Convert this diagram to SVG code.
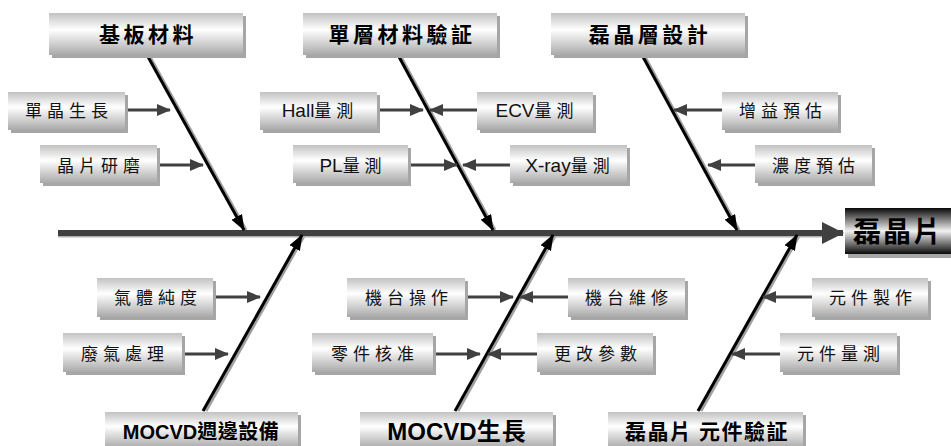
<svg xmlns="http://www.w3.org/2000/svg" width="951" height="446" viewBox="0 0 951 446">
<defs>
<linearGradient id="gBox" x1="0" y1="0" x2="0" y2="1">
<stop offset="0" stop-color="#c2c2c2"/>
<stop offset="0.4" stop-color="#ffffff"/>
<stop offset="1" stop-color="#a9a9a9"/>
</linearGradient>
<linearGradient id="gDark" x1="0" y1="0" x2="0" y2="1">
<stop offset="0" stop-color="#0a0a0a"/>
<stop offset="0.5" stop-color="#f2f2f2"/>
<stop offset="1" stop-color="#0a0a0a"/>
</linearGradient>
<marker id="aSmall" markerUnits="userSpaceOnUse" markerWidth="14" markerHeight="12" refX="13" refY="6" orient="auto">
<path d="M0,0 L14,6 L0,12 Z" fill="#404040"/>
</marker>
<marker id="aDiag" markerUnits="userSpaceOnUse" markerWidth="16" markerHeight="12" refX="15" refY="6" orient="auto">
<path d="M0,0 L16,6 L0,12 Z" fill="#000"/>
</marker>
<marker id="aSpine" markerUnits="userSpaceOnUse" markerWidth="22" markerHeight="22" refX="21" refY="11" orient="auto">
<path d="M0,0 L22,11 L0,22 Z" fill="#404040"/>
</marker>
<style>
.sh{fill:#a6a6a6}
.box{fill:url(#gBox)}
.dark{fill:url(#gDark)}
.t{font-family:"Noto Sans CJK TC","Noto Sans CJK SC",sans-serif;font-size:17px;fill:#111;text-anchor:middle;letter-spacing:5px}
.lat{font-family:"Liberation Sans",Arial,sans-serif;font-size:19px;letter-spacing:0}
.cat{font-family:"Noto Sans CJK TC","Noto Sans CJK SC",sans-serif;font-size:21px;font-weight:700;fill:#000;text-anchor:middle;letter-spacing:3.5px}
.latb{font-family:"Liberation Sans",Arial,sans-serif;font-weight:700;letter-spacing:0}
.small{stroke:#404040;stroke-width:3;fill:none;marker-end:url(#aSmall)}
.diag{stroke:#000;stroke-width:3;fill:none;marker-end:url(#aDiag)}
.dsh{stroke:#a0a0a0;stroke-width:3;fill:none}
</style>
</defs>

<g id="connectors">
<line class="dsh" x1="150" y1="57" x2="246" y2="230"/>
<line class="dsh" x1="401" y1="57" x2="495" y2="230"/>
<line class="dsh" x1="645" y1="57" x2="739" y2="230"/>
<line class="dsh" x1="206" y1="411" x2="304" y2="236"/>
<line class="dsh" x1="458" y1="411" x2="555" y2="236"/>
<line class="dsh" x1="701" y1="411" x2="799" y2="236"/>
<line x1="58" y1="236" x2="830" y2="236" stroke="#b0b0b0" stroke-width="3"/>
<line x1="58" y1="233" x2="843" y2="233" stroke="#404040" stroke-width="6" marker-end="url(#aSpine)"/>
<line class="diag" x1="147" y1="55" x2="244" y2="230"/>
<line class="diag" x1="398" y1="55" x2="493" y2="230"/>
<line class="diag" x1="642" y1="55" x2="737" y2="230"/>
<line class="diag" x1="203" y1="411" x2="302" y2="235"/>
<line class="diag" x1="455" y1="411" x2="553" y2="235"/>
<line class="diag" x1="698" y1="411" x2="797" y2="235"/>
<line class="small" x1="125" y1="110" x2="170" y2="110"/>
<line class="small" x1="157" y1="165" x2="203" y2="165"/>
<line class="small" x1="377" y1="110" x2="423" y2="110"/>
<line class="small" x1="408" y1="165" x2="457" y2="165"/>
<line class="small" x1="477" y1="110" x2="430" y2="110"/>
<line class="small" x1="510" y1="165" x2="463" y2="165"/>
<line class="small" x1="722" y1="110" x2="674" y2="110"/>
<line class="small" x1="755" y1="165" x2="708" y2="165"/>
<line class="small" x1="213" y1="297" x2="260" y2="297"/>
<line class="small" x1="182" y1="354" x2="228" y2="354"/>
<line class="small" x1="465" y1="297" x2="513" y2="297"/>
<line class="small" x1="568" y1="297" x2="520" y2="297"/>
<line class="small" x1="433" y1="354" x2="480" y2="354"/>
<line class="small" x1="537" y1="354" x2="488" y2="354"/>
<line class="small" x1="812" y1="297" x2="763" y2="297"/>
<line class="small" x1="780" y1="354" x2="732" y2="354"/>
</g>

<g id="cat-substrate">
<rect class="sh" x="52" y="16" width="194" height="42"/>
<rect class="box" x="49" y="13" width="194" height="42"/>
<text class="cat" x="148" y="42">基板材料</text>
</g>
<g id="cat-single-layer">
<rect class="sh" x="306" y="16" width="194" height="42"/>
<rect class="box" x="303" y="13" width="194" height="42"/>
<text class="cat" x="402" y="42">單層材料驗証</text>
</g>
<g id="cat-epi-design">
<rect class="sh" x="554" y="16" width="194" height="42"/>
<rect class="box" x="551" y="13" width="194" height="42"/>
<text class="cat" x="650" y="42">磊晶層設計</text>
</g>

<g id="n-single-crystal">
<rect class="sh" x="11" y="95" width="117" height="38"/>
<rect class="box" x="8" y="92" width="117" height="38"/>
<text class="t" x="69" y="117">單晶生長</text>
</g>
<g id="n-wafer-polish">
<rect class="sh" x="43" y="148" width="117" height="38"/>
<rect class="box" x="40" y="145" width="117" height="38"/>
<text class="t" x="101" y="172">晶片研磨</text>
</g>
<g id="n-hall">
<rect class="sh" x="263" y="95" width="117" height="38"/>
<rect class="box" x="260" y="92" width="117" height="38"/>
<text class="t" x="320" y="117"><tspan class="lat">Hall</tspan>量測</text>
</g>
<g id="n-pl">
<rect class="sh" x="296" y="148" width="115" height="38"/>
<rect class="box" x="293" y="145" width="115" height="38"/>
<text class="t" x="353" y="172"><tspan class="lat">PL</tspan>量測</text>
</g>
<g id="n-ecv">
<rect class="sh" x="480" y="95" width="116" height="38"/>
<rect class="box" x="477" y="92" width="116" height="38"/>
<text class="t" x="537" y="117"><tspan class="lat">ECV</tspan>量測</text>
</g>
<g id="n-xray">
<rect class="sh" x="513" y="148" width="117" height="38"/>
<rect class="box" x="510" y="145" width="117" height="38"/>
<text class="t" x="570" y="172"><tspan class="lat">X-ray</tspan>量測</text>
</g>
<g id="n-gain">
<rect class="sh" x="725" y="95" width="116" height="38"/>
<rect class="box" x="722" y="92" width="116" height="38"/>
<text class="t" x="783" y="117">增益預估</text>
</g>
<g id="n-conc">
<rect class="sh" x="758" y="148" width="117" height="38"/>
<rect class="box" x="755" y="145" width="117" height="38"/>
<text class="t" x="816" y="172">濃度預估</text>
</g>

<g id="n-gas-purity">
<rect class="sh" x="100" y="281" width="116" height="39"/>
<rect class="box" x="97" y="278" width="116" height="39"/>
<text class="t" x="158" y="304">氣體純度</text>
</g>
<g id="n-exhaust">
<rect class="sh" x="66" y="336" width="119" height="39"/>
<rect class="box" x="63" y="333" width="119" height="39"/>
<text class="t" x="125" y="360">廢氣處理</text>
</g>
<g id="n-machine-op">
<rect class="sh" x="350" y="281" width="118" height="39"/>
<rect class="box" x="347" y="278" width="118" height="39"/>
<text class="t" x="409" y="304">機台操作</text>
</g>
<g id="n-parts">
<rect class="sh" x="315" y="336" width="121" height="39"/>
<rect class="box" x="312" y="333" width="121" height="39"/>
<text class="t" x="375" y="360">零件核准</text>
</g>
<g id="n-machine-maint">
<rect class="sh" x="571" y="281" width="117" height="39"/>
<rect class="box" x="568" y="278" width="117" height="39"/>
<text class="t" x="629" y="304">機台維修</text>
</g>
<g id="n-params">
<rect class="sh" x="540" y="336" width="116" height="39"/>
<rect class="box" x="537" y="333" width="116" height="39"/>
<text class="t" x="598" y="360">更改參數</text>
</g>
<g id="n-device-fab">
<rect class="sh" x="815" y="281" width="116" height="39"/>
<rect class="box" x="812" y="278" width="116" height="39"/>
<text class="t" x="873" y="304">元件製作</text>
</g>
<g id="n-device-meas">
<rect class="sh" x="783" y="336" width="117" height="39"/>
<rect class="box" x="780" y="333" width="117" height="39"/>
<text class="t" x="841" y="360">元件量測</text>
</g>

<g id="cat-mocvd-periph">
<rect class="sh" x="108" y="415" width="193" height="34"/>
<rect class="box" x="105" y="412" width="193" height="36"/>
<text class="cat" x="201" y="439" style="letter-spacing:0.5px;font-size:20px"><tspan class="latb">MOCVD</tspan>週邊設備</text>
</g>
<g id="cat-mocvd-growth">
<rect class="sh" x="363" y="415" width="193" height="34"/>
<rect class="box" x="360" y="412" width="193" height="36"/>
<text class="cat" x="457" y="440" style="letter-spacing:1px;font-size:24px"><tspan class="latb">MOCVD</tspan>生長</text>
</g>
<g id="cat-device-verify">
<rect class="sh" x="611" y="415" width="195" height="34"/>
<rect class="box" x="608" y="412" width="195" height="36"/>
<text class="cat" x="707" y="439" style="letter-spacing:1.5px">磊晶片 元件驗証</text>
</g>

<g id="result-wafer">
<rect class="sh" x="848" y="211" width="103" height="47"/>
<rect class="dark" x="845" y="208" width="106" height="46"/>
<text class="cat" x="898" y="242" style="font-size:28px;letter-spacing:2px">磊晶片</text>
</g>
</svg>
